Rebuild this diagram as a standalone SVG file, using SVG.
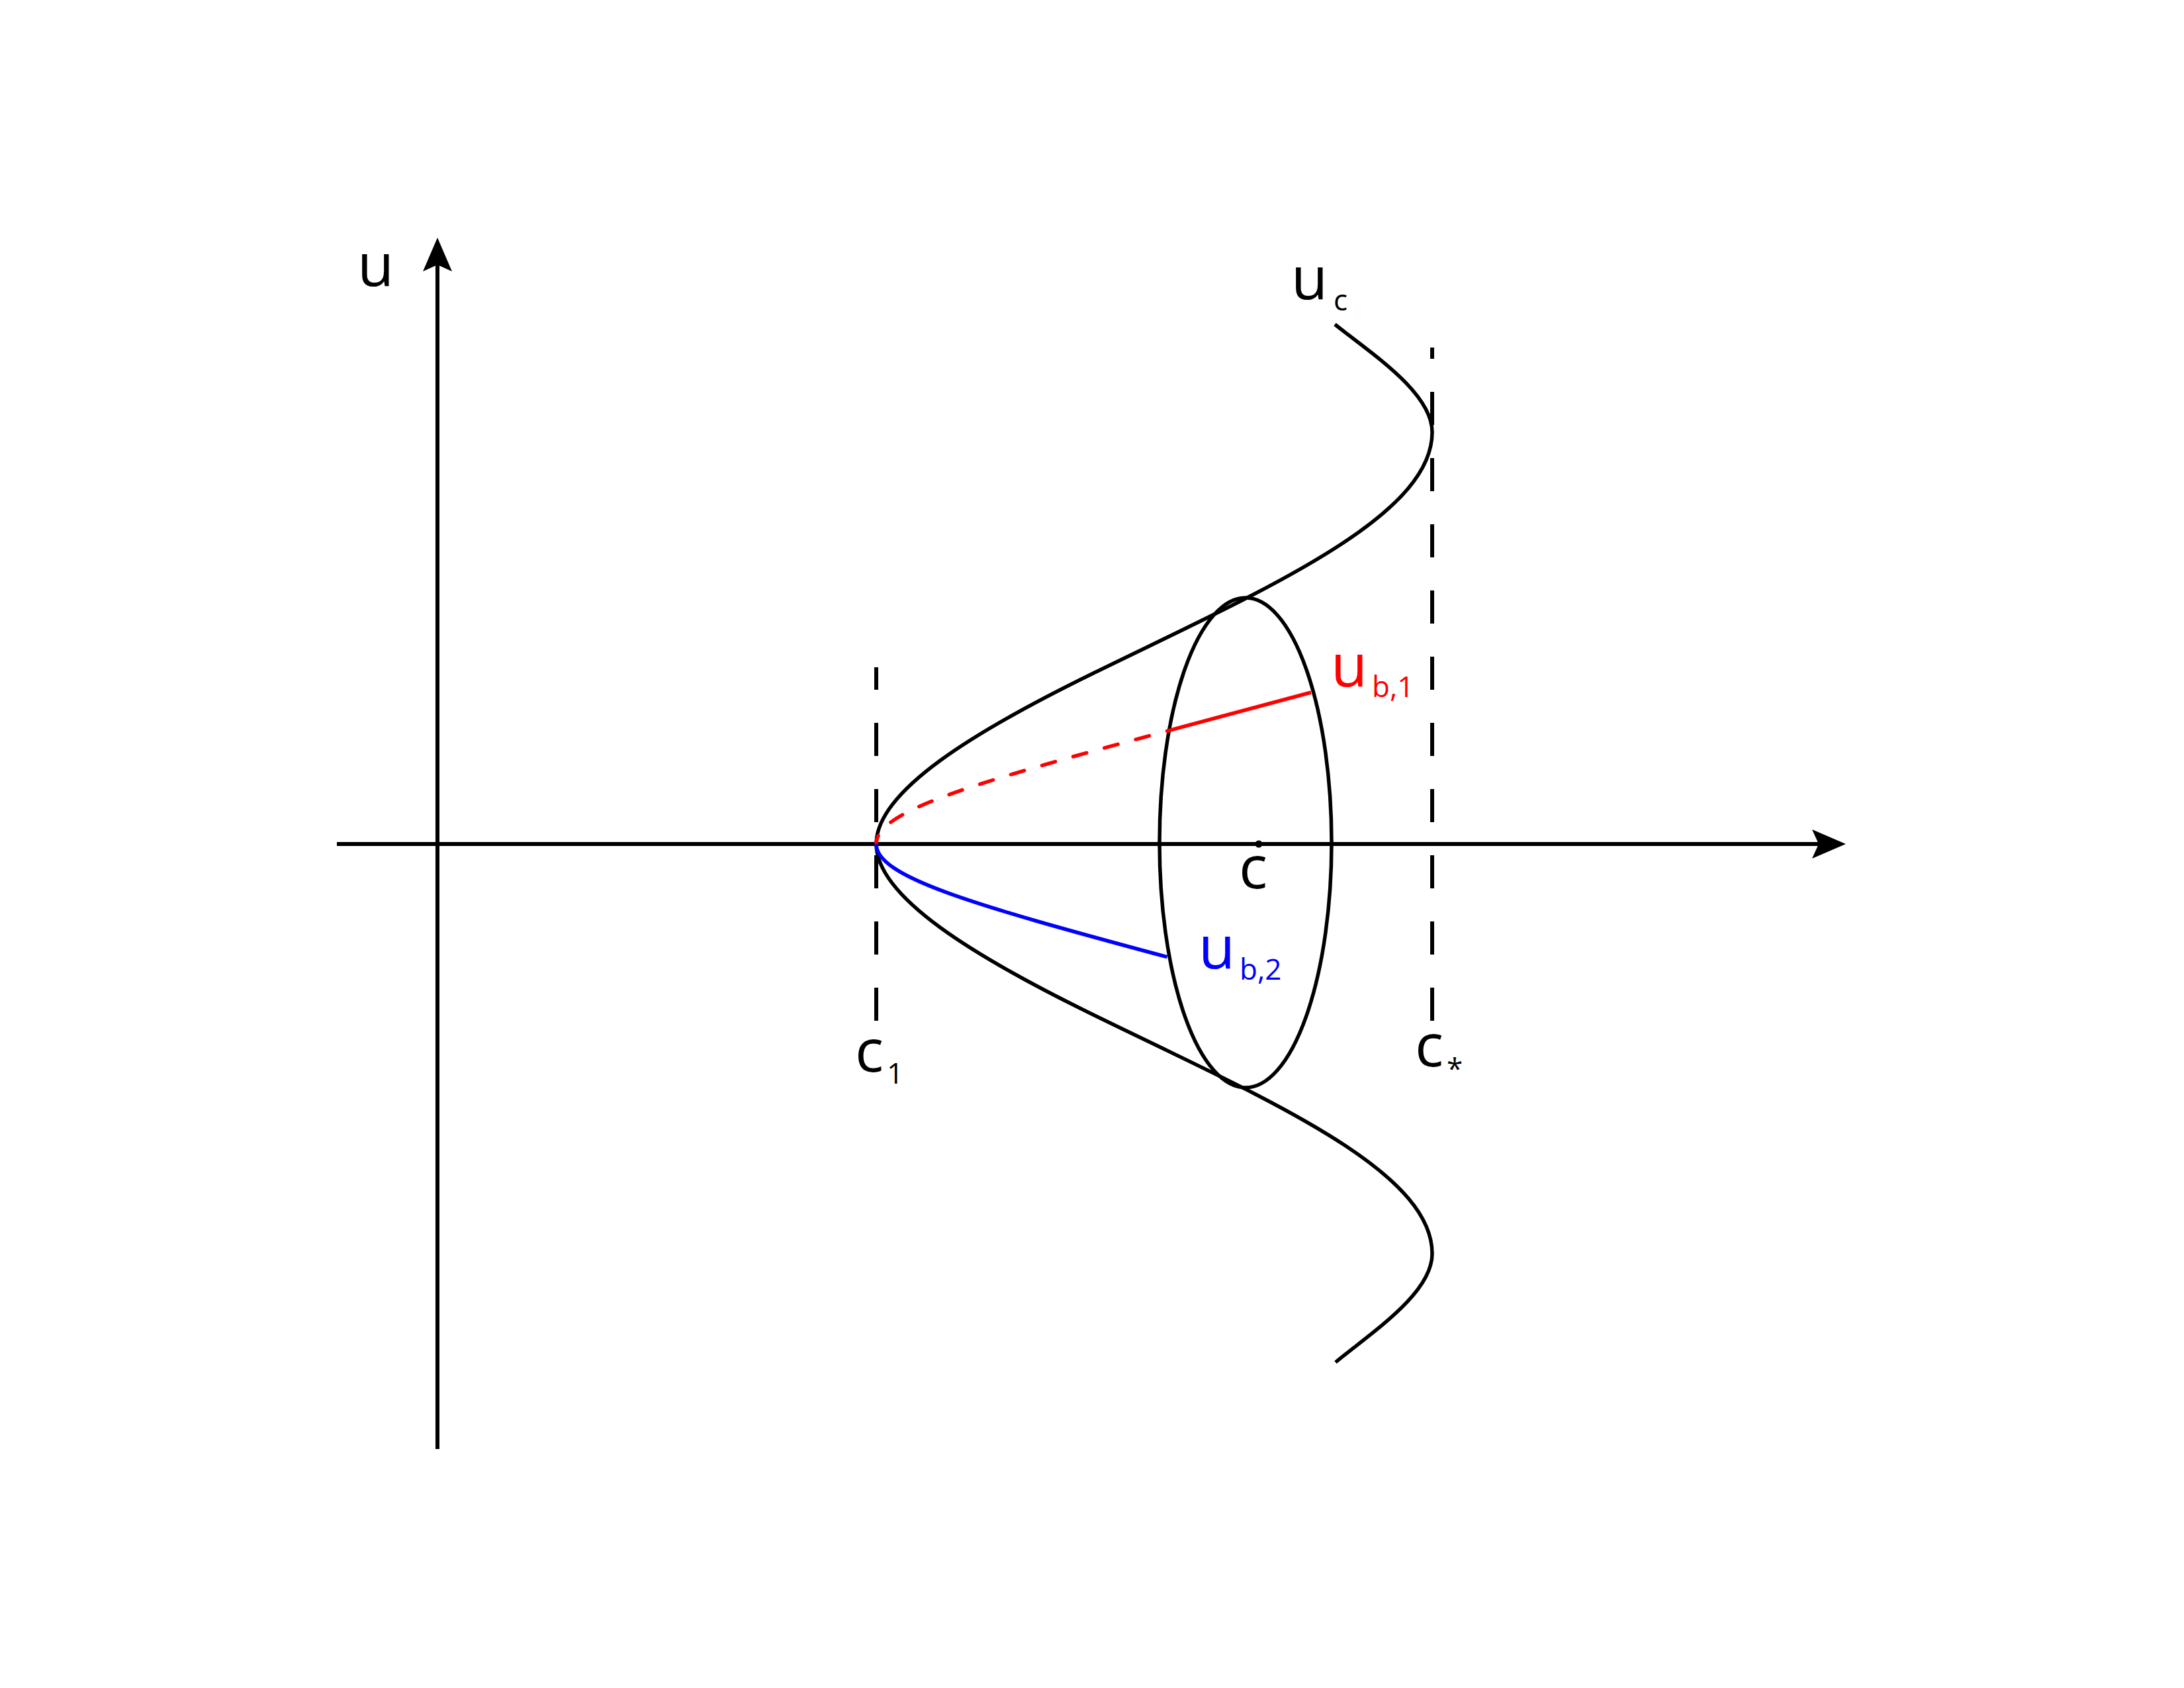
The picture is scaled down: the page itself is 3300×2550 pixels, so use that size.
<svg xmlns="http://www.w3.org/2000/svg" width="3300" height="2550" viewBox="0 0 3300 2550">
<style>
.ax{stroke:#000;stroke-width:6;fill:none}
.guide{stroke:#000;stroke-width:6;fill:none;stroke-dasharray:50 50}
.crv{stroke:#000;stroke-width:5.5;fill:none}
.red{stroke:#ff0000;stroke-width:5.5;fill:none}
.reddash{stroke:#ff0000;stroke-width:5.5;fill:none;stroke-dasharray:21 28;stroke-dashoffset:8;stroke-linecap:round}
.blue{stroke:#0000ff;stroke-width:5.5;fill:none}
text{font-family:"Open Sans","Liberation Sans",sans-serif}
.big{font-size:90px}
.sub{font-size:44px}
.r{fill:#ff0000}
.b{fill:#0000ff}
</style>
<defs>
<marker id="arr" markerUnits="userSpaceOnUse" viewBox="-15 -25 60 50" markerWidth="60" markerHeight="50" refX="0" refY="0" orient="auto">
<path d="M 41 0 L -10 -22 L 0 0 L -10 22 Z" fill="#000"/>
</marker>
</defs>
<rect width="3300" height="2550" fill="#fff"/>
<g id="axes">
<path class="ax" d="M 509 1275 L 2748 1275" marker-end="url(#arr)"/>
<path class="ax" d="M 661 2189 L 661 400" marker-end="url(#arr)"/>
</g>
<g id="guides">
<path class="guide" d="M 1324 1542 L 1324 1008"/>
<path class="guide" d="M 2164 1542 L 2164 525"/>
</g>
<g id="uc">
<path class="crv" d="M 1324 1275 C 1324 1195, 1472 1105, 1652 1017 C 1902 894.5, 2164 783, 2164 653 C 2164 593, 2072 534, 2017 490"/>
<path class="crv" d="M 1324 1275 C 1324 1355, 1472 1445, 1652 1533 C 1902 1655.5, 2164 1765, 2164 1894 C 2164 1954, 2072 2013, 2018 2058"/>
</g>
<g id="ellipse">
<ellipse class="crv" cx="1882" cy="1273" rx="130" ry="370"/>
</g>
<g id="ub1">
<path class="reddash" d="M 1324 1275 C 1324 1225.7, 1463.9 1184.8, 1763.6 1104.3"/>
<path class="red" d="M 1763.6 1104.3 C 1828.5 1086.9, 1900.9 1067.6, 1981 1046"/>
</g>
<g id="ub2">
<path class="blue" d="M 1324 1275 C 1324 1324.3, 1463.9 1365.2, 1763.6 1445.7"/>
</g>
<g id="point-c">
<circle cx="1902" cy="1275" r="5.5" fill="#000"/>
</g>
<g id="labels">
<text class="big" x="540" y="432">u</text>
<text class="big" x="1951" y="452">u</text><text class="sub" x="2015" y="469">c</text>
<text class="big" x="1872" y="1342">c</text>
<text class="big" x="1292" y="1619">c</text><text class="sub" x="1340" y="1637">1</text>
<text class="big" x="2138" y="1611">c</text><text class="sub" x="2186" y="1630">*</text>
<text class="big r" x="2011" y="1037">u</text><text class="sub r" x="2073" y="1053">b,1</text>
<text class="big b" x="1811" y="1463">u</text><text class="sub b" x="1873" y="1480">b,2</text>
</g>
</svg>
